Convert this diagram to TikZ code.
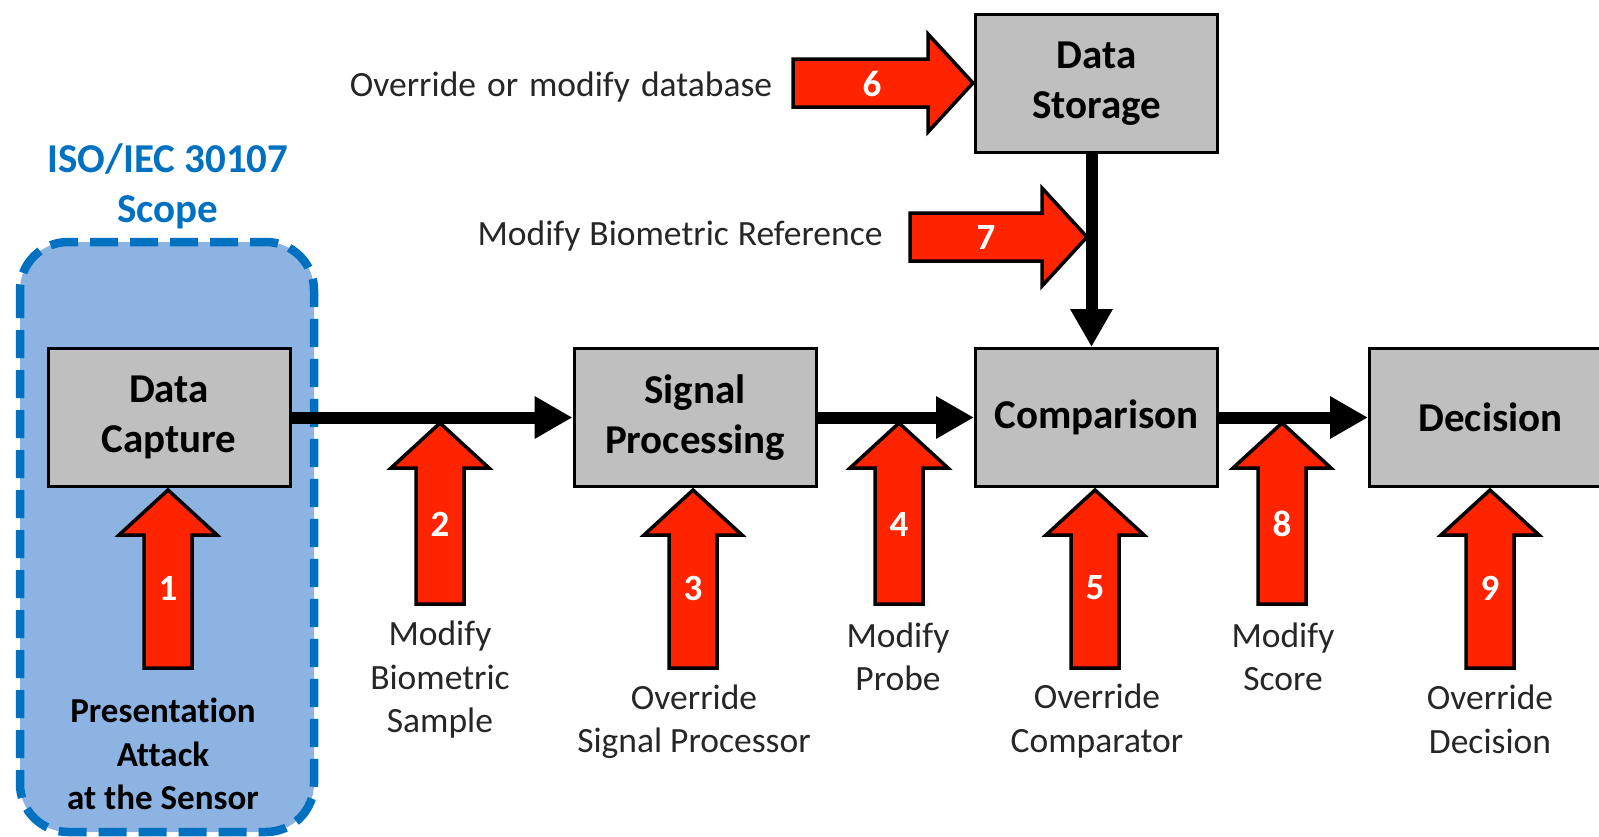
\documentclass[tikz,border=0pt]{standalone}
\usepackage{fontspec}
\setmainfont[Ligatures=NoCommon]{Carlito}
\usetikzlibrary{arrows.meta}
\definecolor{boxgray}{HTML}{BFBFBF}
\definecolor{attackred}{RGB}{255,36,0}
\definecolor{scopefill}{HTML}{8DB3E2}
\definecolor{scopeblue}{HTML}{0070C0}
\definecolor{txt}{HTML}{262626}
\newcommand\attackup[3]{%
  \path[attack] (#1,#2) -- ++(49,45) -- ++(-25,0) -- (#1+24,#3) -- (#1-24,#3) -- (#1-24,#2+45) -- ++(-25,0) -- cycle;}
\newcommand\attackright[3]{%
  \path[attack] (#2,#3) -- ++(-45,-49) -- ++(0,25) -- (#1,#3-24) -- (#1,#3+24) -- (#2-45,#3+24) -- ++(0,25) -- cycle;}
\begin{document}
\begin{tikzpicture}[x=1pt,y=-1pt,
  blockbox/.style={draw=black, line width=3pt, fill=boxgray, minimum width=242pt, minimum height=138pt, align=center, font=\fontsize{41}{50}\selectfont\bfseries, inner sep=0pt},
  flow/.style={line width=12pt, -{Triangle[length=38pt,width=40pt]}},
  attack/.style={draw=black, line width=3.5pt, fill=attackred, line join=miter},
  num/.style={text=white, font=\fontsize{37}{40}\selectfont\bfseries, inner sep=0pt},
  lbl/.style={text=txt, align=center, font=\fontsize{35.5}{43.5}\selectfont, inner sep=0pt},
  boldlbl/.style={text=black, align=center, font=\fontsize{35}{43.5}\selectfont\bfseries, inner sep=0pt},
  scopelbl/.style={text=scopeblue, align=center, font=\fontsize{41}{50}\selectfont\bfseries, inner sep=0pt},
  ]
\useasboundingbox (0,0) rectangle (1599,836);
% scope region
\draw[scopeblue, line width=8.5pt, dash pattern=on 28pt off 12pt, fill=scopefill, rounded corners=48pt] (20,242) rectangle (314,832);
\node[scopelbl] (scope) at (168,186) {ISO/IEC 30107\\Scope};
% boxes
\node[blockbox] (dc) at (169,417.5) {Data\\Capture};
\node[blockbox] (sp) at (695,417.5) {Signal\\Processing};
\node[blockbox] (cmp) at (1096.5,417.5) {Comparison};
\node[blockbox] (dec) at (1490.5,417.5) {Decision};
\node[blockbox] (ds) at (1096.5,83.5) {Data\\Storage};
% flows
\draw[flow] (dc.east) -- (sp.west);
\draw[flow] (sp.east) -- (cmp.west);
\draw[flow] (cmp.east) -- (dec.west);
\draw[flow] ([xshift=-5pt]ds.south) -- ([xshift=-5pt]cmp.north);
% attack arrows
\attackup{168}{490}{668}
\attackup{440}{423}{604}
\attackup{693}{490}{668}
\attackup{899}{423}{604}
\attackup{1095}{490}{668}
\attackup{1282}{423}{604}
\attackup{1490}{490}{668}
\attackright{793}{973}{83}
\attackright{910}{1087}{237}
% numbers
\node[num] (n1) at (168,588) {1};
\node[num] (n2) at (440,524) {2};
\node[num] (n3) at (693,588) {3};
\node[num] (n4) at (899,524) {4};
\node[num] (n5) at (1095,588) {5};
\node[num] (n6) at (872,84) {6};
\node[num] (n7) at (986,237) {7};
\node[num] (n8) at (1282,524) {8};
\node[num] (n9) at (1490,588) {9};
% labels
\node[lbl] (l6) at (561,87) {Override\hspace{11pt}or\hspace{11pt}modify\hspace{11pt}database};
\node[lbl] (l7) at (680,236) {Modify\hspace{9pt}Biometric\hspace{9pt}Reference};
\node[boldlbl] (l1) at (163,754) {Presentation\\Attack\\at the Sensor};
\node[lbl] (l2) at (440,680) {Modify\\Biometric\\Sample};
\node[lbl] (l3) at (694,721.5) {Override\\Signal Processor};
\node[lbl] (l4) at (898,657) {Modify\\Probe};
\node[lbl] (l5) at (1097,721) {Override\\Comparator};
\node[lbl] (l8) at (1283,657) {Modify\\Score};
\node[lbl] (l9) at (1490,719.5) {Override\\Decision};
\end{tikzpicture}
\end{document}
